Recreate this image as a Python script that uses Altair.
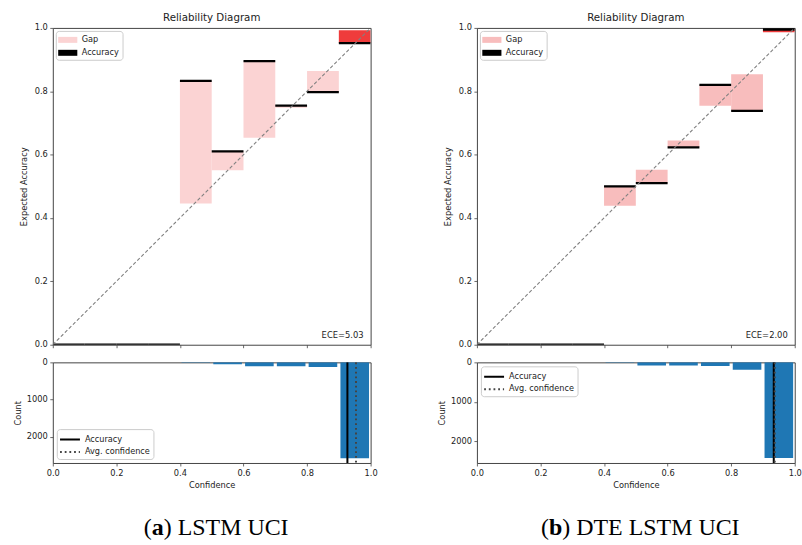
import altair as alt
import pandas as pd

# ---------------- data ----------------
bin_lo = [0.0, 0.1, 0.2, 0.3, 0.4, 0.5, 0.6, 0.7, 0.8, 0.9]
tick_vals = [0.0, 0.2, 0.4, 0.6, 0.8, 1.0]
count_ticks = [0, 1000, 2000]
line_series = ["Accuracy", "Avg. confidence"]

# (a) LSTM UCI
acc_a = [0.0, 0.0, 0.0, 0.0, 0.833, 0.610, 0.895, 0.755, 0.797, 0.952]
conf_a = [0.0, 0.0, 0.0, 0.0, 0.446, 0.551, 0.653, 0.748, 0.864, 0.993]
kind_a = ["Gap", "Gap", "Gap", "Gap", "Gap", "Gap", "Gap", "Gap", "Gap", "GapHi"]
count_a = [0, 0, 0, 0, 12, 53, 105, 105, 124, 2570]
lines_a = [0.927, 0.954]
ece_a = 5.03
count_max_a = 2700

# (b) DTE LSTM UCI
acc_b = [0.0, 0.0, 0.0, 0.0, 0.500, 0.510, 0.623, 0.820, 0.738, 0.995]
conf_b = [0.0, 0.0, 0.0, 0.0, 0.439, 0.552, 0.645, 0.754, 0.854, 0.986]
kind_b = ["Gap", "Gap", "Gap", "Gap", "Gap", "Gap", "Gap", "Gap", "Gap", "GapHi"]
count_b = [0, 0, 0, 0, 10, 78, 80, 95, 186, 2420]
lines_b = [0.934, 0.937]
ece_b = 2.00
count_max_b = 2545

caption_a = ("a", "LSTM UCI")
caption_b = ("b", "DTE LSTM UCI")

# ---------------- style ----------------
FONT = "DejaVu Sans"
SERIF = "Liberation Serif"
W, H_TOP, H_HIST = 319, 318, 101
TXT = "#222222"
RED = "#ef3c3c"

# Times-like advance widths (em) for caption layout
EM = {"(": 0.333, ")": 0.333, " ": 0.25, "a": 0.5, "b": 0.556, "L": 0.611, "S": 0.556,
      "T": 0.611, "M": 0.889, "U": 0.722, "C": 0.667, "I": 0.333, "D": 0.722, "E": 0.611}
CAP_SIZE = 24


def tw(s):
    return sum(EM.get(c, 0.5) for c in s) * CAP_SIZE


def reliability(acc, conf, kind, ece, pink):
    df = pd.DataFrame({"lo": bin_lo, "acc": acc, "conf": conf, "kind": kind})
    base = alt.Chart(df).transform_calculate(hi="datum.lo + 0.1")
    xsc = alt.Scale(domain=[0, 1], nice=False, zero=False)
    ysc = alt.Scale(domain=[0, 1], nice=False, zero=False)
    legend = alt.Legend(
        values=["Gap", "Accuracy"], title=None, orient="top-left", offset=3,
        padding=3, symbolType="M-1.6,-0.5H1.6V0.5H-1.6Z", symbolSize=144,
        symbolOffset=3, labelOffset=8, rowPadding=3, symbolStrokeWidth=0,
        strokeColor="#cccccc", fillColor="white", cornerRadius=3,
        labelFont=FONT, labelFontSize=8.2, labelColor=TXT, symbolOpacity=1,
    )
    color = alt.Color(
        "kind:N",
        scale=alt.Scale(domain=["Gap", "Accuracy", "GapHi"], range=[pink, "black", RED]),
        legend=legend,
    )
    gaps = base.mark_rect(clip=True).encode(
        x=alt.X("lo:Q", scale=xsc,
                axis=alt.Axis(values=tick_vals, labels=False, title=None)),
        x2="hi:Q",
        y=alt.Y("acc:Q", scale=ysc,
                axis=alt.Axis(values=tick_vals, format=".1f", title="Expected Accuracy",
                              titlePadding=6)),
        y2="conf:Q",
        color=color,
    )
    accs = base.transform_calculate(kind="'Accuracy'").mark_rect(
        clip=True, stroke="black", strokeWidth=2.3
    ).encode(x="lo:Q", x2="hi:Q", y="acc:Q", y2="acc:Q", color=color)
    diag = alt.Chart(pd.DataFrame({"v": [0.0, 1.0]})).mark_line(
        color="#808080", strokeDash=[3.5, 2.2], strokeWidth=1.1, clip=True
    ).encode(x=alt.X("v:Q", scale=xsc), y=alt.Y("v:Q", scale=ysc))
    ece_txt = alt.Chart(pd.DataFrame({"t": [f"ECE={ece:.2f}"]})).mark_text(
        align="right", baseline="alphabetic", font=FONT, fontSize=8.4, color=TXT
    ).encode(x=alt.value(W - 7), y=alt.value(H_TOP - 7), text="t:N")
    return alt.layer(gaps, accs, diag, ece_txt).properties(
        width=W, height=H_TOP,
        title=alt.Title("Reliability Diagram", offset=0, font=FONT, fontSize=10.3,
                        fontWeight="normal", color=TXT),
    )


def histogram(count, lines, ymax, orient, caption):
    df = pd.DataFrame({"lo": bin_lo, "count": count})
    xsc = alt.Scale(domain=[0, 1], nice=False, zero=False)
    ysc = alt.Scale(domain=[0, ymax], nice=False, zero=False, reverse=True)
    bars = alt.Chart(df).transform_filter("datum.count > 0").transform_calculate(
        b0="datum.lo + 0.005", b1="datum.lo + 0.095", z="0"
    ).mark_rect(color="#1f77b4", clip=True).encode(
        x=alt.X("b0:Q", scale=xsc,
                axis=alt.Axis(values=tick_vals, format=".1f", title="Confidence",
                              labelFlush=False, labelOverlap=False)),
        x2="b1:Q",
        y=alt.Y("count:Q", scale=ysc,
                axis=alt.Axis(values=count_ticks, format="d", title="Count")),
        y2="z:Q",
    )
    leg = alt.Legend(
        title=None, orient=orient, offset=4, padding=3,
        symbolType="M-1.6,0H1.6", symbolSize=156, symbolOffset=2.75,
        labelOffset=7.5, rowPadding=0.5, symbolStrokeWidth=2,
        strokeColor="#cccccc", fillColor="white", cornerRadius=3,
        labelFont=FONT, labelFontSize=8.2, labelColor=TXT,
    )
    rdf = pd.DataFrame({"series": line_series, "val": lines})
    rules = alt.Chart(rdf).mark_rule(strokeWidth=2, clip=True).encode(
        x=alt.X("val:Q", scale=xsc),
        color=alt.Color("series:N",
                        scale=alt.Scale(domain=line_series, range=["black", "#444444"]),
                        legend=leg),
        strokeDash=alt.StrokeDash("series:N",
                                  scale=alt.Scale(domain=line_series,
                                                  range=[[1, 0], [1.8, 2.9]]),
                                  legend=leg),
    )
    letter, rest = caption
    pieces = ["(", letter, ") " + rest]
    total = tw("(") + tw(letter) + tw(") " + rest)
    x0 = 164 - total / 2
    xs = [x0, x0 + tw("("), x0 + tw("(") + tw(letter)]
    cap_layers = []
    for p, xp, wgt in zip(pieces, xs, ["normal", "bold", "normal"]):
        cap_layers.append(
            alt.Chart(pd.DataFrame({"t": [p]})).mark_text(
                align="left", baseline="alphabetic", font=SERIF, fontSize=CAP_SIZE,
                fontWeight=wgt, color="black"
            ).encode(x=alt.value(xp), y=alt.value(H_HIST + 72.7), text="t:N")
        )
    return alt.layer(bars, rules, *cap_layers).properties(width=W, height=H_HIST)


def panel(acc, conf, kind, ece, pink, count, lines, ymax, orient, caption):
    return alt.vconcat(
        reliability(acc, conf, kind, ece, pink),
        histogram(count, lines, ymax, orient, caption),
        spacing=17.7, bounds="flush",
    ).resolve_scale(color="independent", strokeDash="independent").resolve_legend(
        color="independent", strokeDash="independent")


left = panel(acc_a, conf_a, kind_a, ece_a, "#fbd3d3", count_a, lines_a,
             count_max_a, "bottom-left", caption_a)
right = panel(acc_b, conf_b, kind_b, ece_b, "#f8bdbd", count_b, lines_b,
              count_max_b, "top-left", caption_b)

# flush bounds: nested panels count as zero-width, so spacing spans plot + gap
chart = alt.hconcat(left, right, spacing=W + 106.7, bounds="flush").resolve_scale(
    color="independent", strokeDash="independent"
).resolve_legend(
    color="independent", strokeDash="independent"
).properties(
    padding={"left": 12, "top": 11, "right": 0, "bottom": 0},
    background="white",
).configure_view(
    stroke="#444444", strokeWidth=1
).configure_axis(
    labelFont=FONT, labelFontSize=8.3, labelColor=TXT, labelPadding=2.5,
    titleFont=FONT, titleFontSize=8.3, titleFontWeight="normal", titleColor=TXT,
    titlePadding=4, tickSize=3, tickColor="#444444", tickWidth=0.8,
    domain=False, grid=False,
)

chart.save("out.html", embed_options={"renderer": "svg", "actions": False})
